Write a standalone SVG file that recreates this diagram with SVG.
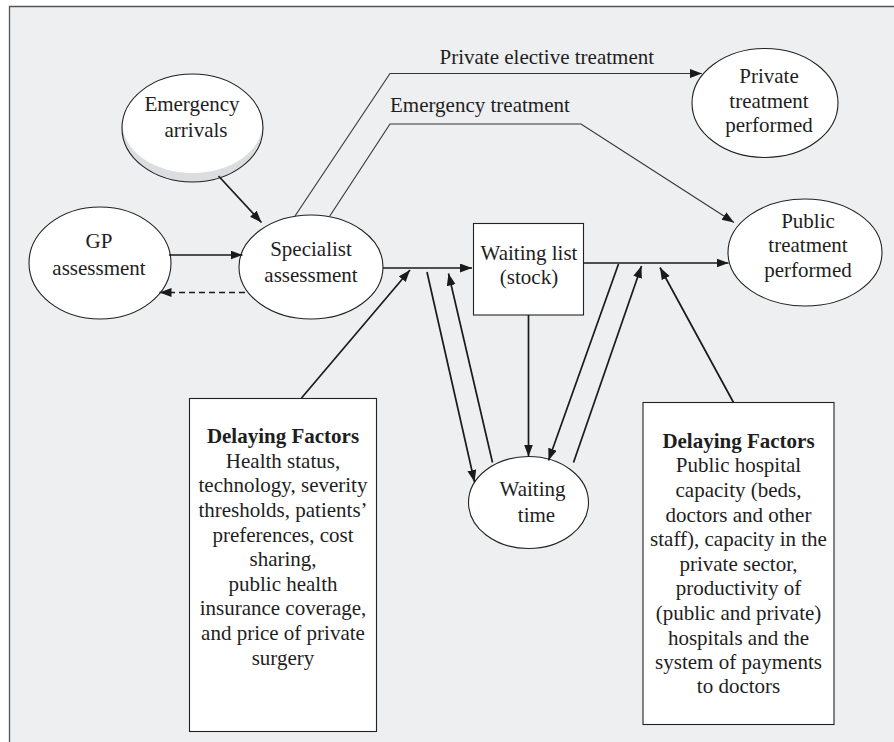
<svg xmlns="http://www.w3.org/2000/svg" width="894" height="742" viewBox="0 0 894 742">
<defs>
<marker id="ah" markerUnits="userSpaceOnUse" markerWidth="13" markerHeight="10" refX="12" refY="4.5" orient="auto">
<path d="M0,0 L12,4.5 L0,9 z" fill="#1a1a1a"/>
</marker>
<style>
text{font-family:"Liberation Serif","Times New Roman",serif;font-size:21px;fill:#1e1e1e;}
.c{text-anchor:middle;}
.b{font-weight:bold;}
.node{fill:#fff;stroke:#222;stroke-width:1.1;}
.arr{fill:none;stroke:#1a1a1a;stroke-width:1.7;marker-end:url(#ah);}
.thin{fill:none;stroke:#333;stroke-width:1.1;}
.thinarr{fill:none;stroke:#333;stroke-width:1.1;marker-end:url(#ah);}
.dash{fill:none;stroke:#1a1a1a;stroke-width:1.7;stroke-dasharray:6,4;marker-end:url(#ah);}
</style>
</defs>
<rect x="0" y="0" width="894" height="742" fill="#ffffff"/>
<rect x="10" y="7" width="884" height="735" fill="#eeeff1"/>
<path d="M9.5,742 V6.5 H894" fill="none" stroke="#555" stroke-width="1.3"/>

<g id="emergency-arrivals">
<ellipse cx="192.5" cy="128" rx="70.5" ry="54" fill="#dcdde0"/>
<ellipse cx="192.5" cy="123.5" rx="70" ry="49.5" fill="#fff"/>
<ellipse cx="192.5" cy="128" rx="70.5" ry="54" fill="none" stroke="#222" stroke-width="1.1"/>
<text class="c" x="192" y="111">Emergency</text>
<text class="c" x="196" y="137">arrivals</text>
</g>

<g id="gp-assessment">
<ellipse class="node" cx="100" cy="263" rx="71" ry="56"/>
<text class="c" x="99" y="248">GP</text>
<text class="c" x="99" y="275">assessment</text>
</g>

<g id="specialist-assessment">
<ellipse class="node" cx="311" cy="267" rx="72" ry="52"/>
<text class="c" x="311" y="256">Specialist</text>
<text class="c" x="311" y="282">assessment</text>
</g>

<g id="private-treatment">
<ellipse class="node" cx="765" cy="103" rx="73" ry="54.5"/>
<text class="c" x="769" y="83">Private</text>
<text class="c" x="769" y="108">treatment</text>
<text class="c" x="769" y="132">performed</text>
</g>

<g id="public-treatment">
<ellipse class="node" cx="805" cy="252.5" rx="77" ry="53.5"/>
<text class="c" x="808" y="228">Public</text>
<text class="c" x="808" y="252">treatment</text>
<text class="c" x="808" y="277">performed</text>
</g>

<g id="waiting-list">
<rect class="node" x="473.5" y="223.5" width="110" height="91.5"/>
<text class="c" x="529" y="260">Waiting list</text>
<text class="c" x="529" y="284">(stock)</text>
</g>

<g id="waiting-time">
<ellipse class="node" cx="528.5" cy="502.5" rx="60" ry="46"/>
<text class="c" x="532.5" y="496">Waiting</text>
<text class="c" x="536.5" y="521.5">time</text>
</g>

<g id="delaying-factors-left">
<rect class="node" x="189.5" y="398.5" width="187" height="333"/>
<text class="c b" x="283" y="443">Delaying Factors</text>
<text class="c" x="283" y="468">Health status,</text>
<text class="c" x="283" y="492">technology, severity</text>
<text class="c" x="283" y="517">thresholds, patients’</text>
<text class="c" x="283" y="542">preferences, cost</text>
<text class="c" x="283" y="566">sharing,</text>
<text class="c" x="283" y="591">public health</text>
<text class="c" x="283" y="615">insurance coverage,</text>
<text class="c" x="283" y="640">and price of private</text>
<text class="c" x="283" y="665">surgery</text>
</g>

<g id="delaying-factors-right">
<rect class="node" x="643" y="402.5" width="191" height="322"/>
<text class="c b" x="738.5" y="448">Delaying Factors</text>
<text class="c" x="738.5" y="472">Public hospital</text>
<text class="c" x="738.5" y="497">capacity (beds,</text>
<text class="c" x="738.5" y="521.5">doctors and other</text>
<text class="c" x="738.5" y="546">staff), capacity in the</text>
<text class="c" x="738.5" y="571">private sector,</text>
<text class="c" x="738.5" y="595">productivity of</text>
<text class="c" x="738.5" y="620">(public and private)</text>
<text class="c" x="738.5" y="645">hospitals and the</text>
<text class="c" x="738.5" y="669">system of payments</text>
<text class="c" x="738.5" y="693">to doctors</text>
</g>

<g id="connectors">
<line class="arr" x1="218.5" y1="176" x2="261.5" y2="222.5"/>
<line class="arr" x1="169" y1="255" x2="242.5" y2="255"/>
<line class="dash" x1="245" y1="292.5" x2="159.5" y2="292.5"/>
<polyline class="thinarr" points="295,216 390,73.5 702,73.5"/>
<polyline class="thinarr" points="329.5,216.5 390,124 581,124 734,222.5"/>
<line class="arr" x1="383" y1="268" x2="472" y2="268"/>
<line class="arr" x1="301.5" y1="398" x2="410" y2="270"/>
<line class="arr" x1="427" y1="272" x2="474.5" y2="482"/>
<line class="arr" x1="492.5" y1="462.5" x2="448.5" y2="273.5"/>
<line class="arr" x1="528.5" y1="315" x2="528.5" y2="456.5"/>
<line class="arr" x1="583.5" y1="263" x2="728.5" y2="263"/>
<line class="arr" x1="618.5" y1="264" x2="548.5" y2="460.5"/>
<line class="arr" x1="573.5" y1="462.5" x2="641.5" y2="266"/>
<line class="arr" x1="733.5" y1="402.5" x2="660" y2="267.5"/>
<text x="439.5" y="63.5">Private elective treatment</text>
<text x="390" y="112">Emergency treatment</text>
</g>
</svg>
